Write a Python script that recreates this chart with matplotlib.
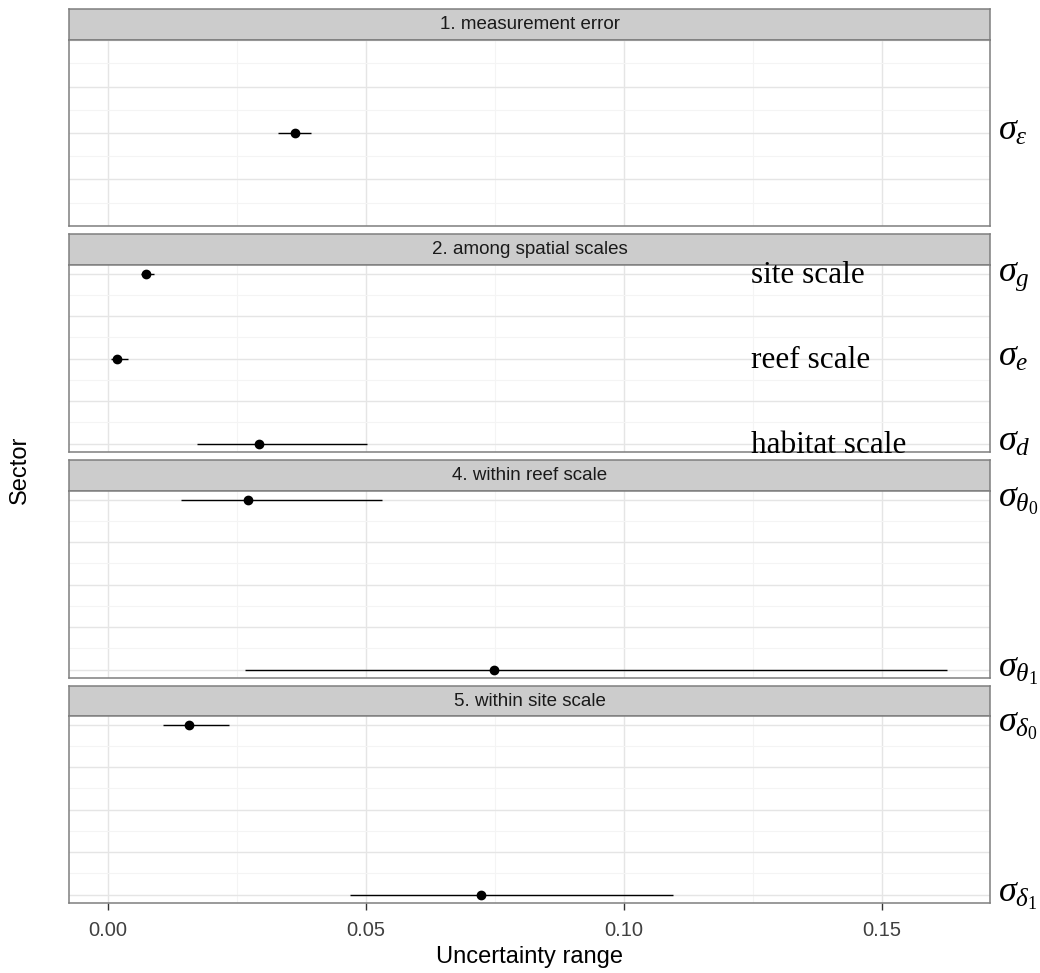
import matplotlib
matplotlib.use("Agg")
import matplotlib.pyplot as plt
from matplotlib.ticker import MultipleLocator

plt.rcParams['font.family'] = ['Liberation Sans', 'DejaVu Sans']
plt.rcParams['mathtext.fontset'] = 'custom'
plt.rcParams['mathtext.it'] = 'Liberation Serif:italic'
plt.rcParams['mathtext.rm'] = 'Liberation Serif'

# facets and parameters (top to bottom)
panels = ["1. measurement error", "2. among spatial scales",
          "4. within reef scale", "5. within site scale"]
panel_of = [0, 1, 1, 1, 2, 2, 3, 3]
params = [r"$\sigma_{\varepsilon}$", r"$\sigma_{g}$", r"$\sigma_{e}$", r"$\sigma_{d}$",
          r"$\sigma_{\theta_{\mathit{0}}}$", r"$\sigma_{\theta_{\mathit{1}}}$",
          r"$\sigma_{\delta_{\mathit{0}}}$", r"$\sigma_{\delta_{\mathit{1}}}$"]
scale_names = ["", "site scale", "reef scale", "habitat scale", "", "", "", ""]
est = [0.0362, 0.0074, 0.0018, 0.0293, 0.0271, 0.0748, 0.0157, 0.0722]
lo = [0.0329, 0.0063, 0.0006, 0.0173, 0.0141, 0.0266, 0.0106, 0.0468]
hi = [0.0393, 0.0089, 0.0038, 0.0501, 0.0531, 0.1626, 0.0234, 0.1095]
xticks = [0.00, 0.05, 0.10, 0.15]

W, H = 1040, 973
fig = plt.figure(figsize=(W / 100, H / 100), dpi=100)

left, right = 69, 990
strip_top = [9, 234, 460, 686]
body_top = [40, 265, 491, 716]
body_bot = [226, 452, 678, 903]
border = '#7f7f7f'

def fx(px):
    return px / W

def fy(px):
    return 1 - px / H

axes = []
for k, name in enumerate(panels):
    # strip
    sax = fig.add_axes([fx(left), fy(body_top[k]), fx(right - left),
                        (body_top[k] - strip_top[k]) / H])
    sax.set_facecolor('#cccccc')
    sax.set_xticks([])
    sax.set_yticks([])
    for s in sax.spines.values():
        s.set_color(border)
        s.set_linewidth(1.1)
    sax.text(0.5, 0.5, name, ha='center', va='center', fontsize=13.5,
             color='#1a1a1a', transform=sax.transAxes)

    ax = fig.add_axes([fx(left), fy(body_bot[k]), fx(right - left),
                       (body_bot[k] - body_top[k]) / H])
    axes.append(ax)
    idx = [i for i in range(len(est)) if panel_of[i] == k]
    n = len(idx)
    if n == 1:
        ys = [0.0]
        ax.set_ylim(-2, 2)
    else:
        ys = [4 - 4 * j / (n - 1) for j in range(n)]
        ax.set_ylim(-0.2, 4.2)
    ax.set_xlim(-0.00756, 0.1709)
    ax.xaxis.set_major_locator(MultipleLocator(0.05))
    ax.xaxis.set_minor_locator(MultipleLocator(0.025))
    ax.yaxis.set_major_locator(MultipleLocator(1))
    ax.yaxis.set_minor_locator(MultipleLocator(0.5))
    ax.grid(True, which='major', color='#e5e5e5', lw=1.0)
    ax.grid(True, which='minor', color='#f4f4f4', lw=0.8)
    ax.set_axisbelow(True)
    ax.tick_params(axis='y', which='both', left=False, labelleft=False)
    for s in ax.spines.values():
        s.set_color(border)
        s.set_linewidth(1.1)
    if k < len(panels) - 1:
        ax.tick_params(axis='x', which='both', bottom=False, labelbottom=False)
    else:
        ax.set_xticks(xticks)
        ax.set_xticklabels(["%.2f" % t for t in xticks])
        ax.tick_params(axis='x', which='major', length=5, width=1,
                       color='#333333', labelsize=14.5, labelcolor='#404040', pad=8)
        ax.tick_params(axis='x', which='minor', bottom=False)

    for j, i in enumerate(idx):
        y = ys[j]
        ax.hlines(y, lo[i], hi[i], color='black', lw=1.0, zorder=3)
        ax.plot(est[i], y, 'o', color='black', ms=6, zorder=4)
        ax.annotate(params[i], xy=(1.0, y), xycoords=('axes fraction', 'data'),
                    xytext=(6, -5), textcoords='offset points',
                    ha='left', va='baseline', fontsize=26, annotation_clip=False)
        if scale_names[i]:
            ax.annotate(scale_names[i], xy=(0.1245, y), xycoords='data',
                        xytext=(0, -7), textcoords='offset points',
                        ha='left', va='baseline', fontsize=22.5,
                        family=['Liberation Serif', 'DejaVu Serif'],
                        annotation_clip=False, zorder=5)

fig.text(fx((left + right) / 2), fy(957), "Uncertainty range", ha='center',
         va='center', fontsize=17)
fig.text(fx(20), fy(470), "Sector", ha='center', va='center', rotation=90,
         fontsize=17)

fig.savefig("out.png", dpi=100)
